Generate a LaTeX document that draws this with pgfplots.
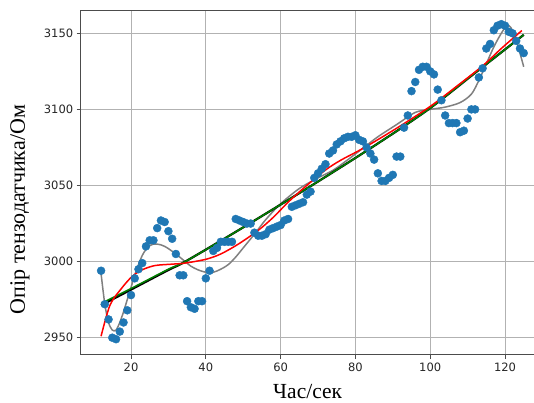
\documentclass[border=0pt]{standalone}
\usepackage{fontspec}
\setmainfont{Liberation Serif}
\newfontfamily\dejavu{DejaVu Sans}
\usepackage{pgfplots}
\pgfplotsset{compat=1.18}
\definecolor{mplblue}{HTML}{1F77B4}
\definecolor{mplgreen}{HTML}{008000}
\begin{document}
\begin{tikzpicture}
\useasboundingbox (-80.7pt,-48pt) rectangle (453.3pt,355pt);
\clip (-80.7pt,-48pt) rectangle (453.3pt,355pt);
\begin{axis}[
  at={(0pt,0pt)}, anchor=south west,
  scale only axis, width=453.9pt, height=344.5pt,
  xmin=6.55, xmax=127.91, ymin=2938.63, ymax=3164.98,
  xtick={20,40,60,80,100,120}, ytick={2950,3000,3050,3100,3150},
  grid=major, grid style={color=black!30, line width=0.8pt},
  axis line style={black!70, line width=1pt},
  tick align=outside, xtick pos=left, ytick pos=left,
  major tick length=4pt, tick style={black!70, line width=0.8pt},
  /pgf/number format/assume math mode=true,
  /pgf/number format/1000 sep={},
  ticklabel style={font=\dejavu\fontsize{11.5}{13}\selectfont, text=black!85},
  xlabel={Час/сек}, ylabel={Опір тензодатчика/Ом},
  xlabel style={font=\fontsize{21.5}{25}\selectfont, at={(axis description cs:0.5,-0.1060)}, anchor=center, inner sep=0pt},
  ylabel style={font=\fontsize{22}{26}\selectfont, at={(axis description cs:-0.1337,0.422)}, anchor=center},
]
\addplot[only marks, mark=*, mark size=4pt, color=mplblue] coordinates {
(12,2994)(13,2972)(14,2962)(15,2950)(16,2949)(17,2954)(18,2960)(19,2968)(20,2978)(21,2989)
(22,2995)(23,2999)(24,3010)(25,3014)(26,3014)(27,3022)(28,3027)(29,3026)(30,3020)(31,3015)
(32,3005)(33,2991)(34,2991)(35,2974)(36,2970)(37,2969)(38,2974)(39,2974)(40,2989)(41,2994)
(42,3007)(43,3009)(44,3013)(45,3013)(46,3013)(47,3013)(48,3028)(49,3027)(50,3026)(51,3025)
(52,3025)(53,3019)(54,3017)(55,3017)(56,3018)(57,3021)(58,3022)(59,3023)(60,3024)(61,3027)
(62,3028)(63,3036)(64,3037)(65,3038)(66,3039)(67,3044)(68,3046)(69,3055)(70,3058)(71,3061)
(72,3064)(73,3071)(74,3073)(75,3077)(76,3079)(77,3081)(78,3082)(79,3082)(80,3083)(81,3080)
(82,3079)(83,3075)(84,3071)(85,3067)(86,3058)(87,3053)(88,3053)(89,3055)(90,3057)(91,3069)
(92,3069)(93,3088)(94,3096)(95,3112)(96,3118)(97,3126)(98,3128)(99,3128)(100,3125)(101,3123)
(102,3113)(103,3106)(104,3096)(105,3091)(106,3091)(107,3091)(108,3085)(109,3086)(110,3094)(111,3100)
(112,3100)(113,3121)(114,3127)(115,3140)(116,3143)(117,3152)(118,3155)(119,3156)(120,3155)(121,3151)
(122,3150)(123,3145)(124,3140)(125,3137)
};
\addplot[gray, line width=1.5pt, smooth] coordinates {
(12,2992)(13,2972)(14,2960)(15,2955)(16,2955)(17,2960)(18,2967)(19,2975)(20,2983)(21,2991)
(22,2998)(23,3004)(24,3008)(25,3010.5)(26,3011.5)(27,3011.5)(28,3011)(29,3010)(30,3008.5)
(32,3005)(34,3001)(36,2997)(38,2994.5)(40,2993)(42,2993)(44,2995)(46,2998)(48,3003)(50,3009)
(53,3018)(56,3027.5)(60,3038)(65,3048)(70,3055)(74,3060)(78,3067)(82,3074.5)(86,3082)(91,3090)
(96,3098)(100,3100)(104,3101.5)(108,3104.5)(111,3110)(113,3119)(115,3130)(117,3141)(119,3150)
(120.5,3155)(121.5,3154)(123,3146)(124,3137)(125,3128)
};
\addplot[black, line width=2.2pt, smooth] coordinates {
(12,2971.3)(20,2981.6)(30,2994.5)(34.5,3000)(49,3021)(68.3,3050)(85,3076)(99.5,3100)(112,3124)(125,3149)
};
\addplot[mplgreen, line width=1.5pt, smooth] coordinates {
(12,2972.5)(20,2982.3)(30,2995)(34.5,3000)(49,3021)(68.3,3050)(85,3076)(99.5,3100)(112,3124)(125,3149)
};
\addplot[red, line width=1.5pt, smooth] coordinates {
(12,2951)(14.4,2971.5)(17.5,2982.5)(20.2,2990)(22.9,2994.5)(26.4,2997.4)(30.9,2998.3)(34.4,2999)
(40,3001.5)(44,3005)(48.7,3011.5)(54,3020.5)(58,3029)(62,3039)(66.5,3049)(71.9,3060)(76,3066.5)
(82.1,3074.5)(91,3087.6)(99.9,3101.8)(107.5,3116)(114.2,3129)(119,3140)(124.5,3151.8)
};
\end{axis}
\end{tikzpicture}
\end{document}
